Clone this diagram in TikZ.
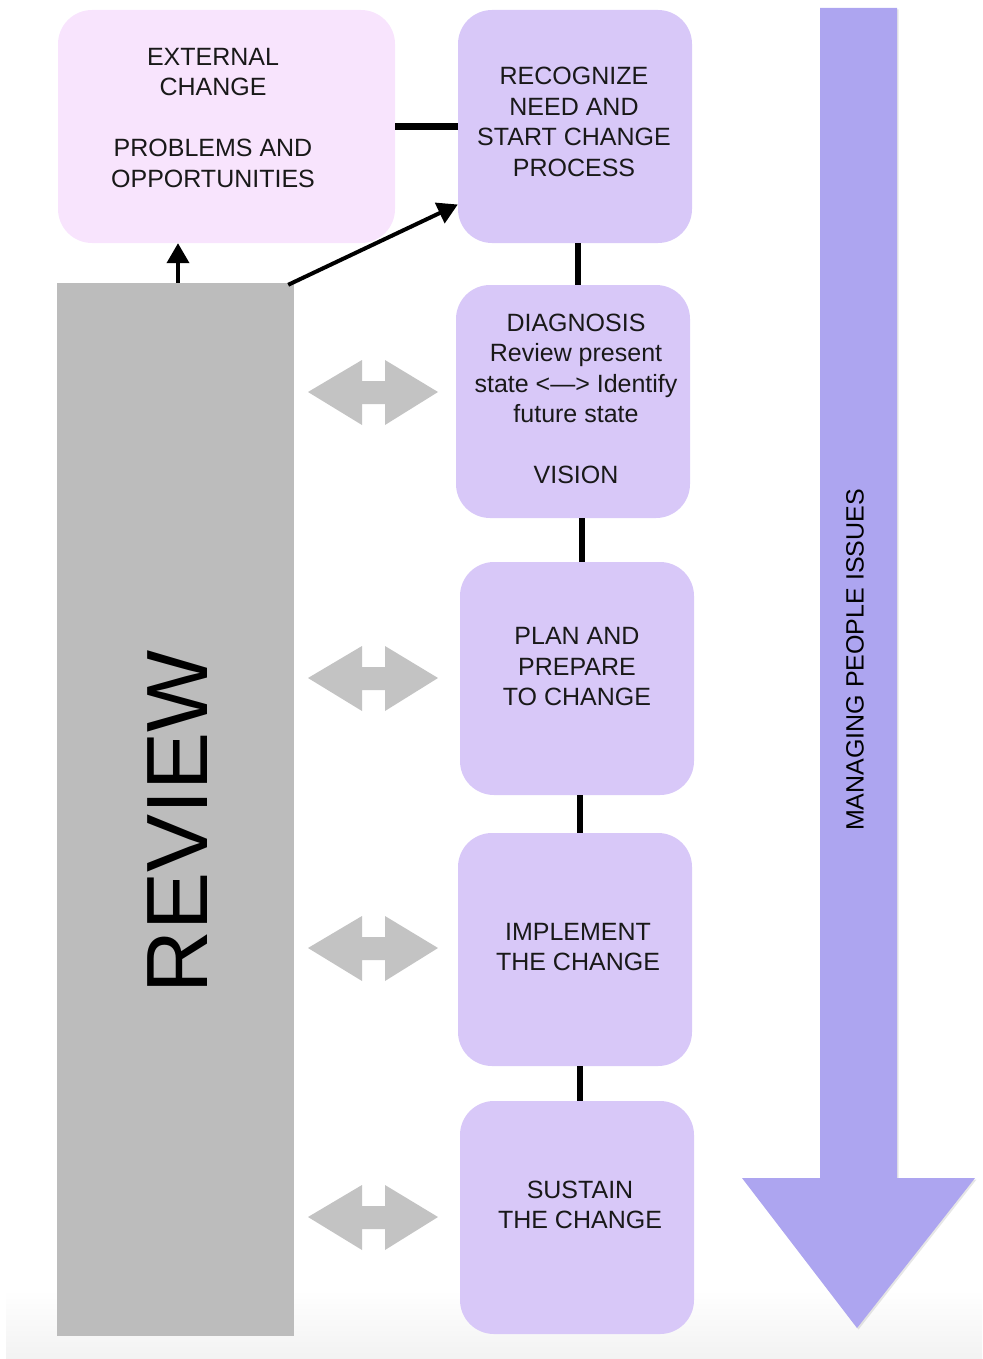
\documentclass[tikz,border=0pt]{standalone}
\usepackage{fontspec}
\setmainfont{Liberation Sans}
\usetikzlibrary{shadows,arrows.meta}
\definecolor{pinkbox}{RGB}{248,228,253}
\definecolor{lav}{RGB}{216,200,248}
\definecolor{revgray}{RGB}{188,188,188}
\definecolor{arrgray}{RGB}{195,195,195}
\definecolor{bigarr}{RGB}{173,165,240}
\begin{document}
\begin{tikzpicture}[x=1pt,y=-1pt,
  stepbox/.style={rounded corners=34pt, fill=lav, minimum width=234pt, minimum height=233pt, inner sep=0pt},
  boxtext/.style={align=center, font=\fontsize{25}{30.5}\selectfont, inner sep=0pt, text=black!90},
  link/.style={line width=6pt},
  reviewarrow/.style={line width=4pt, -{Triangle[width=22pt,length=20pt]}},
  grayarrow/.style={fill=arrgray},
]
\useasboundingbox (0,0) rectangle (982,1359);
% bottom background gradient
\shade[top color=white, bottom color=black!5] (6,1290) rectangle (982,1359);

% big down arrow
\fill[bigarr, drop shadow={opacity=0.2, shadow xshift=1.5pt, shadow yshift=-1.5pt}]
  (820,8) -- (897,8) -- (897,1178) -- (975,1178) -- (857,1328) -- (742,1178) -- (820,1178) -- cycle;
\node[rotate=90, font=\fontsize{25}{30}\selectfont, inner sep=0pt] (mpi) at (855,660) {MANAGING PEOPLE ISSUES};

% review bar
\node[fill=revgray, minimum width=237pt, minimum height=1053pt, inner sep=0pt] (review) at (175.5,809.5) {};
\node[rotate=90, font=\fontsize{87}{90}\selectfont, inner sep=0pt] (rvtext) at (178,822) {REVIEW};

% boxes
\node[stepbox, fill=pinkbox, minimum width=337pt] (ext) at (226.5,126.5) {};
\node[stepbox] (rec)  at (575,126.5) {};
\node[stepbox] (diag) at (573,401.5) {};
\node[stepbox] (plan) at (577,678.5) {};
\node[stepbox] (impl) at (575,949.5) {};
\node[stepbox] (sust) at (577,1217.5) {};

\node[boxtext] (exttext) at (213,118) {EXTERNAL\\CHANGE\\[30.5pt]PROBLEMS AND\\OPPORTUNITIES};
\node[boxtext] (rectext) at (574,122) {RECOGNIZE\\NEED AND\\START CHANGE\\PROCESS};
\node[boxtext] (diagtext) at (576,399) {DIAGNOSIS\\Review present\\state <—> Identify\\future state\\[30.5pt]VISION};
\node[boxtext] (plantext) at (577,667) {PLAN AND\\PREPARE\\TO CHANGE};
\node[boxtext] (impltext) at (578,947) {IMPLEMENT\\THE CHANGE};
\node[boxtext] (susttext) at (580,1205) {SUSTAIN\\THE CHANGE};

% connectors
\draw[line width=7pt] (ext.east) -- (rec.west);
\draw[link] ([xshift=3pt]rec.south) -- ([xshift=3pt]rec.south |- diag.north);
\draw[link] ([xshift=9pt]diag.south) -- ([xshift=9pt]diag.south |- plan.north);
\draw[link] ([xshift=3pt]plan.south) -- ([xshift=3pt]plan.south |- impl.north);
\draw[link] ([xshift=5pt]impl.south) -- ([xshift=5pt]impl.south |- sust.north);

\draw[reviewarrow] ([xshift=2.5pt]review.north) -- ([xshift=2.5pt]review.north |- ext.south);
\draw[reviewarrow] ([xshift=-6pt,yshift=-2pt]review.north east) -- ([yshift=-78pt]rec.west);

% gray double arrows
\foreach \y in {392,678,948,1217}{
  \fill[grayarrow] (308,\y) -- (362,\y-32) -- (362,\y-11) -- (385,\y-11) -- (385,\y-32)
    -- (438,\y) -- (385,\y+33) -- (385,\y+12) -- (362,\y+12) -- (362,\y+33) -- cycle;
}
\end{tikzpicture}
\end{document}
